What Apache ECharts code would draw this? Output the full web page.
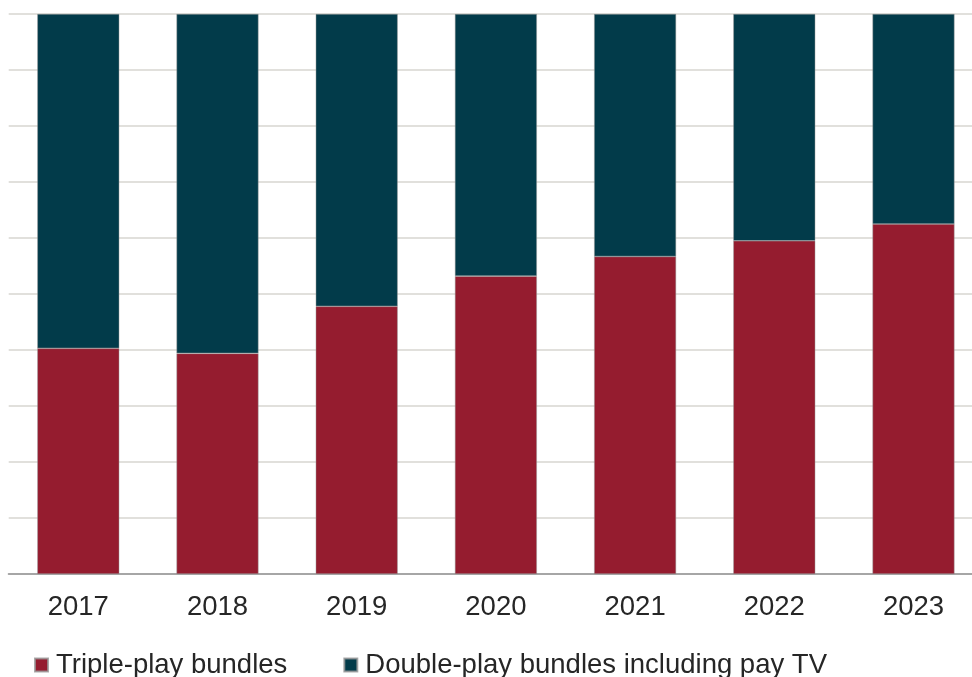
<!DOCTYPE html>
<html>
<head>
<meta charset="utf-8">
<script src="https://cdn.jsdelivr.net/npm/echarts@6/dist/echarts.min.js"></script>
<style>
  html, body { margin: 0; padding: 0; background: #fff; overflow: hidden; }
  /* plot area runs slightly past the right edge of the window */
  #chart { width: 990px; height: 677px; }
</style>
</head>
<body>
<div id="chart"></div>
<script>
// Share of bundles (%) by year
const years = ['2017', '2018', '2019', '2020', '2021', '2022', '2023'];
const triplePlay = [40.3, 39.4, 47.8, 53.2, 56.7, 59.5, 62.5];
const doublePlayPayTV = [59.7, 60.6, 52.2, 46.8, 43.3, 40.5, 37.5];
const seriesNames = ['Triple-play bundles', 'Double-play bundles including pay TV'];

const chart = echarts.init(document.getElementById('chart'), null, { renderer: 'canvas' });

const textColor = '#262626';
const font = '"Liberation Sans", Arial, sans-serif';

chart.setOption({
  animation: false,
  backgroundColor: '#ffffff',
  grid: { left: 8.7, top: 14, width: 974.4, height: 560, containLabel: false },
  xAxis: {
    type: 'category',
    data: years,
    axisLine: { show: true, lineStyle: { color: '#a6a6a6', width: 2 } },
    axisTick: { show: false },
    axisLabel: { color: textColor, fontSize: 27.5, fontFamily: font, margin: 19 }
  },
  yAxis: {
    type: 'value',
    min: 0,
    max: 100,
    interval: 10,
    axisLine: { show: false },
    axisTick: { show: false },
    axisLabel: { show: false },
    splitLine: { show: true, lineStyle: { color: '#e1e0dc', width: 2 } }
  },
  legend: {
    left: 34,
    top: 651,
    padding: 0,
    itemWidth: 13,
    itemHeight: 13,
    itemGap: 56,
    icon: 'rect',
    textStyle: { color: textColor, fontSize: 27.5, fontFamily: font, padding: [0, 0, 0, 3] },
    data: seriesNames
  },
  series: [
    {
      name: seriesNames[0],
      type: 'bar',
      stack: 'total',
      barWidth: 82,
      data: triplePlay,
      itemStyle: { color: '#951c2f', borderColor: 'rgba(150,150,150,0.8)', borderWidth: 0.6 }
    },
    {
      name: seriesNames[1],
      type: 'bar',
      stack: 'total',
      barWidth: 82,
      data: doublePlayPayTV,
      itemStyle: { color: '#023b4a', borderColor: 'rgba(150,150,150,0.8)', borderWidth: 0.6 }
    }
  ]
});
</script>
</body>
</html>
